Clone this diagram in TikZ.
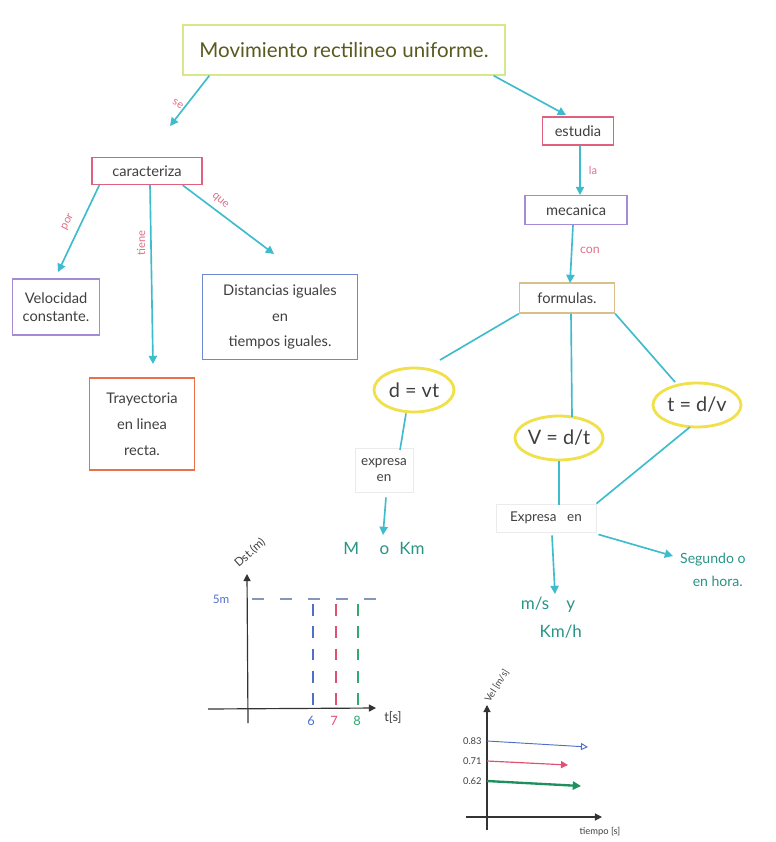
\documentclass[tikz,border=0pt]{standalone}
\usepackage{fontspec}
\setmainfont{Lato}
\usetikzlibrary{arrows.meta,shapes.geometric}
\definecolor{teal1}{HTML}{3CBCCC}
\definecolor{tealtxt}{HTML}{2A9488}
\definecolor{pinkb}{HTML}{E0607E}
\definecolor{pinklab}{HTML}{E07088}
\definecolor{purpleb}{HTML}{A58AD6}
\definecolor{blueb}{HTML}{7088D0}
\definecolor{orangeb}{HTML}{E8704A}
\definecolor{tanb}{HTML}{D8C08A}
\definecolor{yellowb}{HTML}{F0E04A}
\definecolor{titleb}{HTML}{D6E88A}
\definecolor{titletxt}{HTML}{5A5A20}
\definecolor{txt}{HTML}{404040}
\definecolor{gblue}{HTML}{5070C8}
\definecolor{gred}{HTML}{E05070}
\definecolor{ggreen}{HTML}{30A870}
\definecolor{gdgreen}{HTML}{1E9060}
\begin{document}
\begin{tikzpicture}[x=0.03cm,y=-0.03cm,
  conc/.style={draw=#1,line width=1.2pt,align=center,text=txt,font=\fontsize{12.5}{15}\selectfont,inner sep=0pt},
  formula/.style={ellipse,draw=yellowb,line width=2.4pt,text=txt,font=\fontsize{17}{20}\selectfont,inner sep=0pt},
  link/.style={draw=teal1,line width=1.4pt},
  arr/.style={link,-{Triangle[length=7pt,width=7pt]}},
  lab/.style={text=pinklab,font=\fontsize{9.5}{10}\selectfont,inner sep=1pt},
  note/.style={draw=black!8,line width=0.8pt,align=center,text=txt,font=\fontsize{11.5}{14}\selectfont,inner sep=0pt},
  unit/.style={text=tealtxt,align=center,font=\fontsize{14.5}{24}\selectfont},
  axis/.style={draw=black!80,line width=1pt,-{Triangle[length=6pt,width=6pt]}},
  small/.style={text=txt,font=\fontsize{9}{10}\selectfont,inner sep=1pt}
]
\useasboundingbox[fill=white] (0,0) rectangle (775,842);

% concept boxes
\node[conc=titleb,minimum width=322*0.03cm,minimum height=50*0.03cm,text=titletxt,font=\fontsize{17.5}{20}\selectfont] (title) at (344,50) {Movimiento rectilineo uniforme.};
\node[conc=pinkb,minimum width=110*0.03cm,minimum height=27*0.03cm] (car) at (147,171) {caracteriza};
\node[conc=purpleb,minimum width=87*0.03cm,minimum height=56*0.03cm] (vel) at (56,307) {Velocidad\\constante.};
\node[conc=blueb,minimum width=155*0.03cm,minimum height=85*0.03cm,font=\fontsize{12.5}{22}\selectfont] (dist) at (280,317) {Distancias iguales\\en\\tiempos iguales.};
\node[conc=orangeb,minimum width=105*0.03cm,minimum height=92*0.03cm,font=\fontsize{12.5}{22}\selectfont] (tray) at (142,424) {Trayectoria\\en linea\\recta.};
\node[conc=pinkb,minimum width=71*0.03cm,minimum height=28*0.03cm] (est) at (578,131) {estudia};
\node[conc=purpleb,minimum width=102*0.03cm,minimum height=29*0.03cm] (mec) at (576,210) {mecanica};
\node[conc=tanb,minimum width=95*0.03cm,minimum height=30*0.03cm] (form) at (567,298) {formulas.};

% formulas
\node[formula,minimum width=80*0.03cm,minimum height=44*0.03cm] (f1) at (414,390) {d = vt};
\node[formula,minimum width=88*0.03cm,minimum height=44*0.03cm] (f2) at (559,438) {V = d/t};
\node[formula,minimum width=88*0.03cm,minimum height=44*0.03cm] (f3) at (697,405) {t = d/v};

% expresa nodes
\node[note,minimum width=58*0.03cm,minimum height=44*0.03cm] (ex1) at (384,470) {expresa\\en};
\node[note,minimum width=100*0.03cm,minimum height=28*0.03cm] (ex2) at (546,518) {Expresa\hspace{0.8em}en};
\node[unit] (u1) at (384,548) {M\hspace{1.2em}o\hspace{0.6em}Km};
\node[unit,anchor=north] (u2) at (548,593) {m/s\hspace{1em}y\\\hspace{1.5em}Km/h};
\node[unit,anchor=west,font=\fontsize{12}{19}\selectfont] (u3) at (676,570) {Segundo o\\\hspace{0.7em}en hora.};

% connectors left
\draw[arr] (title.south west)++(27,0) coordinate (t1) -- (170,126) coordinate (c1);
\node[lab,rotate=-30] (lse) at (178,104) {se};
\draw[arr] (car.south west)++(8,0) -- (58,272);
\node[lab,rotate=63] (lpor) at (68,222) {por};
\draw[arr] (car.south)++(3,0) -- (153,364);
\node[lab,rotate=90] (ltiene) at (141,243) {tiene};
\draw[arr] (car.south east)++(-20,0) -- (274,254);
\node[lab,rotate=-40] (lque) at (220,201) {que};

% connectors right
\draw[arr] (title.south east)++(-12,0) -- (566,115);
\draw[arr] (est.south)++(2,0) -- (580,195);
\node[lab] (lla) at (593,170) {la};
\draw[arr] (mec.south)++(-3,0) -- (570,283);
\node[lab,font=\fontsize{10.5}{11}\selectfont] (lcon) at (590,250) {con};
\draw[link] (form.south west) -- (440,360);
\draw[link] (form.south)++(4,0) -- (572,417);
\draw[link] (form.south east) -- (675,382);
\draw[link] (f1.south) ++(-8,0) -- (400,450);
\draw[arr] (ex1.south) ++(2,5) -- (383,535);
\draw[link] (f2.south) ++(0,0) -- (559,505);
\draw[link] (690,427) -- (ex2.north east);
\draw[arr] (ex2.south)++(6,3) -- (555,594);
\draw[arr] (ex2.south east)++(2,2) -- (673,556);

% graph 1
\draw[axis] (248,723) -- (247,574);
\draw[axis] (208,709) -- (376,708);
\node[small,text=gblue,font=\fontsize{10}{11}\selectfont] (g1y) at (221,599) {5m};
\node[small,rotate=42,font=\fontsize{10}{11}\selectfont] (g1ylab) at (250,553) {Dst.(m)};
\node[small,font=\fontsize{11}{12}\selectfont] (g1xlab) at (393,717) {t[s]};
\draw[gblue!70!black!60,line width=0.9pt,dash pattern=on 10pt off 14pt] (252,599) -- (382,599);
\draw[gblue,line width=0.9pt,dash pattern=on 10pt off 9pt] (313,604) -- (313,706);
\draw[gred,line width=0.9pt,dash pattern=on 10pt off 9pt] (336,604) -- (336,706);
\draw[ggreen,line width=0.9pt,dash pattern=on 10pt off 9pt] (358,604) -- (358,706);
\node[text=gblue,font=\fontsize{11}{12}\selectfont] (n6) at (311,721) {6};
\node[text=gred,font=\fontsize{11}{12}\selectfont] (n7) at (334,721) {7};
\node[text=ggreen,font=\fontsize{11}{12}\selectfont] (n8) at (357,721) {8};

% graph 2
\draw[axis] (487,830) -- (487,705);
\draw[axis] (466,817) -- (602,817);
\node[small,rotate=58,font=\fontsize{8}{9}\selectfont] (g2ylab) at (497,686) {Vel [m/s]};
\node[small,font=\fontsize{8}{9}\selectfont] (g2xlab) at (600,832) {tiempo [s]};
\node[small,font=\fontsize{8}{9}\selectfont,anchor=east] (v1) at (483,741) {0.83};
\node[small,font=\fontsize{8}{9}\selectfont,anchor=east] (v2) at (483,761) {0.71};
\node[small,font=\fontsize{8}{9}\selectfont,anchor=east] (v3) at (483,781) {0.62};
\draw[gblue,line width=0.8pt,-{Triangle[open,length=6pt,width=6pt]}] (v1.east)++(4,0) -- (588,747);
\draw[gred,line width=1pt,-{Triangle[length=6pt,width=6pt]}] (v2.east)++(4,0) -- (568,765);
\draw[gdgreen,line width=2pt,-{Triangle[length=7pt,width=7pt]}] (v3.east)++(4,0) -- (581,786);
\end{tikzpicture}
\end{document}
